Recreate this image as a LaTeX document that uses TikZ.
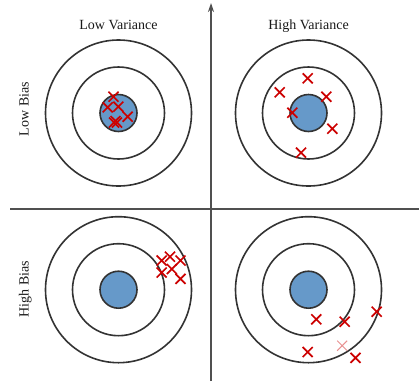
\documentclass[tikz,border=0pt]{standalone}
\usepackage{fontspec}
\setmainfont{Liberation Serif}
\usetikzlibrary{shapes.misc,arrows.meta}
\definecolor{ringcol}{HTML}{333333}
\definecolor{bullcol}{HTML}{6699C9}
\definecolor{xred}{HTML}{CC0000}
\definecolor{xfaint}{HTML}{E89090}
\definecolor{axiscol}{HTML}{505050}
\tikzset{
  ring/.style={draw=ringcol, line width=1.6pt},
  bull/.style={draw=ringcol, line width=1.6pt, fill=bullcol},
  xmark/.style={cross out, draw=xred, line width=1.7pt, minimum size=10pt, inner sep=0pt, outer sep=0pt},
  xmarkfaint/.style={xmark, draw=xfaint, line width=1pt},
  axisline/.style={draw=axiscol, line width=1.7pt},
  lbl/.style={font=\fontsize{14}{16}\selectfont, text=black!90, inner sep=0pt, anchor=base}
}
\newcommand{\target}[2]{%
  \draw[ring] (#1,#2) circle[radius=73pt];
  \draw[ring] (#1,#2) circle[radius=46pt];
  \draw[bull] (#1,#2) circle[radius=18.5pt];
}
\begin{document}
\begin{tikzpicture}[x=1pt,y=-1pt]
\useasboundingbox (0,0) rectangle (419,381);
% axes
\coordinate (vbot) at (211,381);
\coordinate (vtop) at (211,3);
\coordinate (hleft) at (10,209);
\coordinate (hright) at (419,209);
\draw[axisline,-{Stealth[length=9pt,width=6pt]}] (vbot) -- (vtop);
\draw[axisline] (hleft) -- (hright);
% targets
\target{118.5}{113}
\target{308.5}{113}
\target{118.5}{289.7}
\target{308.5}{289.7}
% labels
\node[lbl] (lv) at (118.5,29) {Low Variance};
\node[lbl] (hv) at (308.5,29) {High Variance};
\node[lbl,rotate=90] (lb) at (28.5,109) {Low Bias};
\node[lbl,rotate=90] (hb) at (28.5,289) {High Bias};
% low bias, low variance
\node[xmark] (a1) at (113.5,96.7) {};
\node[xmark] (a2) at (107.7,107.3) {};
\node[xmark] (a3) at (118.3,106.7) {};
\node[xmark] (a4) at (127.7,116.7) {};
\node[xmark] (a5) at (114,122.5) {};
\node[xmark] (a6) at (117,122.5) {};
\node[xmark] (a7) at (115.5,121) {};
% low bias, high variance
\node[xmark] (b1) at (307.7,78.3) {};
\node[xmark] (b2) at (279.7,92.3) {};
\node[xmark] (b3) at (326.3,96.7) {};
\node[xmark] (b4) at (292.3,112.7) {};
\node[xmark] (b5) at (332.3,128.7) {};
\node[xmark] (b6) at (301,152.7) {};
% high bias, low variance
\node[xmark] (c1) at (161.7,260.5) {};
\node[xmark] (c2) at (170,256.7) {};
\node[xmark] (c3) at (180.5,260.5) {};
\node[xmark] (c4) at (161.7,272.5) {};
\node[xmark] (c5) at (171.8,269) {};
\node[xmark] (c6) at (180.5,278.8) {};
% high bias, high variance
\node[xmark] (d1) at (316.3,319.3) {};
\node[xmark] (d2) at (344.7,321.7) {};
\node[xmark] (d3) at (376.7,311.7) {};
\node[xmark] (d4) at (307.7,352) {};
\node[xmarkfaint] (d5) at (342.2,345.7) {};
\node[xmark] (d6) at (355.5,357.8) {};
\end{tikzpicture}
\end{document}
